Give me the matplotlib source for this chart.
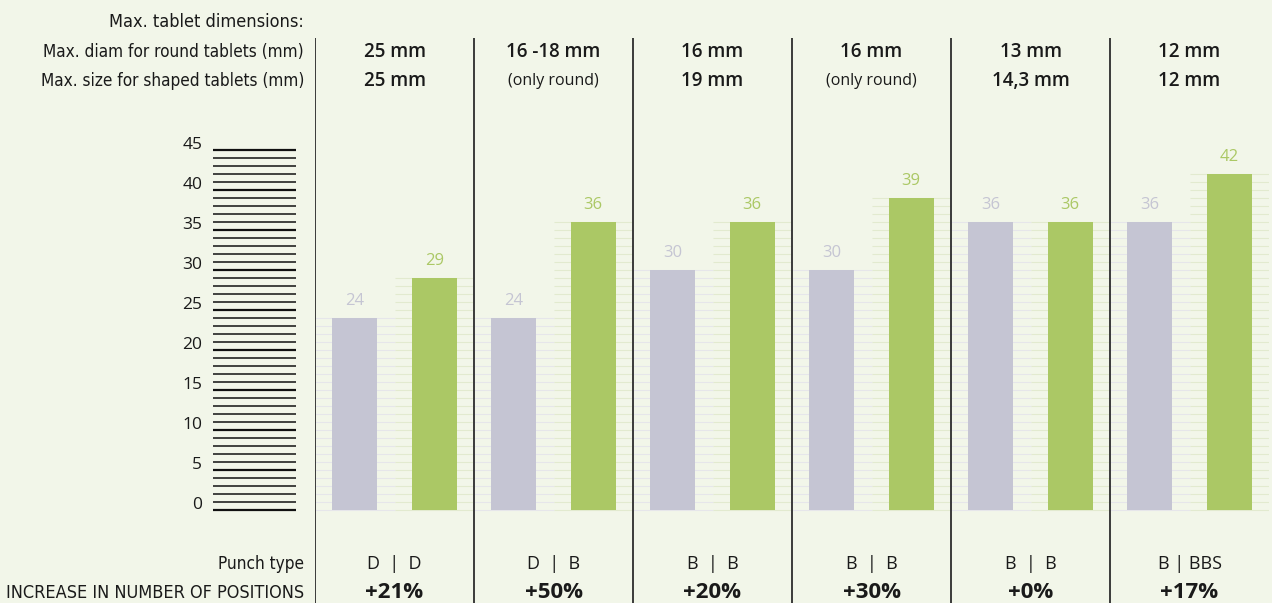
import matplotlib.pyplot as plt
import numpy as np

# data
old_positions = [24, 24, 30, 30, 36, 36]
new_positions = [29, 36, 36, 39, 36, 42]
diam_round = ['25 mm', '16 -18 mm', '16 mm', '16 mm', '13 mm', '12 mm']
size_shaped = ['25 mm', '(only round)', '19 mm', '(only round)', '14,3 mm', '12 mm']
punch_type = ['D  |  D', 'D  |  B', 'B  |  B', 'B  |  B', 'B  |  B', 'B | BBS']
increase = ['+21%', '+50%', '+20%', '+30%', '+0%', '+17%']
scale_ticks = list(range(0, 46))

bg = '#f2f6e9'
grey = '#c5c5d3'
green = '#abc865'
grey_line = '#e6e6ea'
green_line = '#e2eacf'

body = ['Open Sans', 'DejaVu Sans']

W, H = 1272, 603
fig = plt.figure(figsize=(W / 100, H / 100), dpi=100, facecolor=bg)

# y: 0 at px 510, 45 at px 150 -> 8 px per unit
y_bottom = -(H - 510) / 8
y_top = 510 / 8

ax = fig.add_axes([315 / W, 0, 954 / W, 1])
ax.set_facecolor(bg)
ax.set_xlim(-0.5, 5.5)
ax.set_ylim(y_bottom, y_top)
ax.axis('off')

x = np.arange(len(old_positions))
bw = 0.283
off = 0.25

# faint guide lines behind bars
for i in x:
    for v in range(0, old_positions[i] + 1):
        ax.hlines(v, i - 0.5, i, color=grey_line, lw=0.8, zorder=1)
    for v in range(0, new_positions[i] + 1):
        ax.hlines(v, i, i + 0.5, color=green_line, lw=0.8, zorder=1)

ax.bar(x - off, old_positions, width=bw, color=grey, zorder=2)
ax.bar(x + off, new_positions, width=bw, color=green, zorder=2)

for i in x:
    ax.text(i - off, old_positions[i] + 1.1, str(old_positions[i]), ha='center', va='bottom',
            color=grey, fontsize=12, family=body)
    ax.text(i + off, new_positions[i] + 1.1, str(new_positions[i]), ha='center', va='bottom',
            color=green, fontsize=12, family=body)

# column separators
for b in np.arange(-0.5, 5.5, 1.0):
    ax.vlines(b, y_bottom, (510 - 38) / 8, color='#3a3a3a', lw=1.4, zorder=3)


def px_to_y(py):
    return (510 - py) / 8


# header and footer rows
for i in x:
    ax.text(i, px_to_y(52), diam_round[i], ha='center', va='center', fontsize=13.5,
            family=body, fontweight='semibold', color='#1a1a1a')
    small = size_shaped[i].startswith('(')
    ax.text(i, px_to_y(81), size_shaped[i], ha='center', va='center',
            fontsize=11.5 if small else 13.5, family=body,
            fontweight='normal' if small else 'semibold', color='#1a1a1a')
    ax.text(i, px_to_y(564), punch_type[i], ha='center', va='center', fontsize=13,
            family=body, color='#1a1a1a')
    ax.text(i, px_to_y(593), increase[i], ha='center', va='center', fontsize=16,
            family=body, fontweight='bold', color='#1a1a1a')

# left-hand labels
left_labels = [("Max. tablet dimensions:", 22, 13), ("Max. diam for round tablets (mm)", 52, 12.3),
               ("Max. size for shaped tablets (mm)", 81, 12.3), ("Punch type", 564, 12.3),
               ("INCREASE IN NUMBER OF POSITIONS", 593, 13)]
for txt, py, fs in left_labels:
    fig.text(304 / W, 1 - py / H, txt, ha='right', va='center', fontsize=fs,
             family='DejaVu Sans', fontstretch='condensed', color='#1a1a1a')

# scale on the left
sc = fig.add_axes([213 / W, 0, 83 / W, 1])
sc.set_xlim(0, 1)
sc.set_ylim(y_bottom, y_top)
sc.axis('off')
for v in scale_ticks:
    sc.hlines(v, 0, 1, color='#111111', lw=1.6 if v % 5 == 0 else 1.1)
    if v % 5 == 0:
        sc.text(-0.13, v + 0.6, str(v), ha='right', va='center', fontsize=12.5,
                family=body, color='#1a1a1a')

fig.savefig('out.png', dpi=100, facecolor=bg)
